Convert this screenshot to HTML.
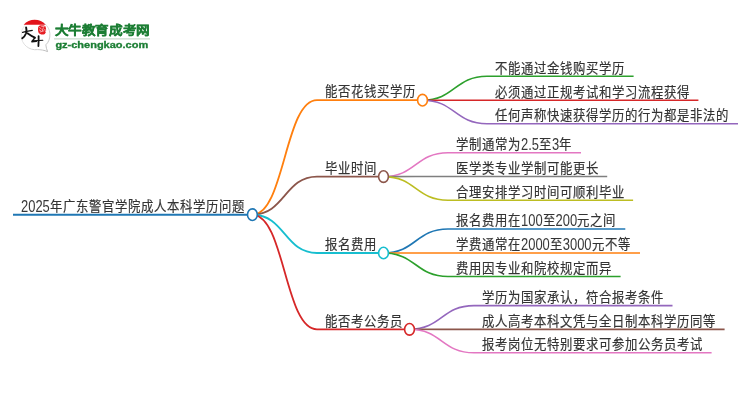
<!DOCTYPE html>
<html lang="zh-CN"><head><meta charset="utf-8"><style>
html,body{margin:0;padding:0;background:#fff;width:750px;height:410px;overflow:hidden}
svg{display:block}
.t text{font-family:"Liberation Sans",sans-serif;font-size:15.2px;letter-spacing:1.05px;fill:#333;stroke:#333;stroke-width:0.2px}
.t text.d{font-size:15.9px;letter-spacing:0;stroke:none;fill:#383838}
</style></head><body>
<svg width="750" height="410" viewBox="0 0 750 410">

<defs><linearGradient id="bg" x1="0" y1="0" x2="1" y2="1"><stop offset="0" stop-color="#f0f0f0"/><stop offset="0.6" stop-color="#d8d8d8"/><stop offset="1" stop-color="#b8b8b8"/></linearGradient></defs>
<line x1="54" y1="38.8" x2="150" y2="38.8" stroke="#c9dccc" stroke-width="1.2"/>
<g id="logo">
 <path d="M21.2,36 A14.4,14.4 0 0 1 49.9,33.5 C50.2,38.5 48.5,42.5 45.8,44.8 C46,47.2 46.8,49.8 47.6,51.6 C44.5,50.2 40.5,49.6 37.5,49.6 A14.4,14.4 0 0 1 21.2,36 Z" fill="#fff" stroke="url(#bg)" stroke-width="1"/>
 <path d="M23.7,24.8 A14.5,14.5 0 0 1 45.6,24.8 Z" fill="#e3131b"/>
 <path d="M38.4,26.8 C39.5,25 44,24.8 45.4,26.5 C46.6,28.5 46.3,32.5 44.8,34 C43,35 39.6,34.6 38.6,32.8 C37.8,31 37.8,28.4 38.4,26.8 Z" fill="#e61e24"/>
 <path d="M39.3,27 L41.6,29.4 M43.4,27.4 L42.2,31.2 M40,32 L44,30.8 M39.2,30 L40.8,30.6 M41.2,26.2 L44.6,26.6 M44.8,29 L45.6,32" stroke="#fff" stroke-width="0.8" fill="none" opacity="0.75"/>
 <path d="M26.1,27.4 C26.6,29 26.8,31 26,33.5 C25.2,35.5 24,37 22.3,38.3" stroke="#111" stroke-width="1.9" fill="none" stroke-linecap="round"/>
 <path d="M22.6,32.3 C26,31.8 29,31 32.3,30.3" stroke="#111" stroke-width="1.2" fill="none" stroke-linecap="round"/>
 <path d="M27.6,33.3 C30,35 32.5,36.8 35,37.7" stroke="#111" stroke-width="1.8" fill="none" stroke-linecap="round"/>
 <path d="M34.6,38 L31.8,41.8 L36.5,41.2" stroke="#111" stroke-width="1.4" fill="none" stroke-linecap="round" stroke-linejoin="round"/>
 <path d="M32.2,40.9 C36,40.6 40,40.3 42.8,40.3" stroke="#111" stroke-width="1.1" fill="none" stroke-linecap="round"/>
 <path d="M38.6,36.2 C38.7,39.5 38.6,43 38.4,46" stroke="#111" stroke-width="1.8" fill="none" stroke-linecap="round"/>
</g>

<path d="M252.40,214.70 C284.70,214.70 284.70,100.10 317.00,100.10" stroke="#ff7f0e" stroke-width="1.8" fill="none"/><path d="M422.50,100.20 C454.75,100.20 454.75,76.20 487.00,76.20" stroke="#2ca02c" stroke-width="1.6" fill="none"/><path d="M422.50,100.20 C454.75,100.20 454.75,100.20 487.00,100.20" stroke="#d62728" stroke-width="1.6" fill="none"/><path d="M422.50,100.20 C454.75,100.20 454.75,123.70 487.00,123.70" stroke="#9467bd" stroke-width="1.6" fill="none"/><path d="M252.40,214.70 C284.70,214.70 284.70,176.60 317.00,176.60" stroke="#8c564b" stroke-width="1.8" fill="none"/><path d="M383.50,176.60 C415.75,176.60 415.75,152.80 448.00,152.80" stroke="#e377c2" stroke-width="1.6" fill="none"/><path d="M383.50,176.60 C415.75,176.60 415.75,176.50 448.00,176.50" stroke="#7f7f7f" stroke-width="1.6" fill="none"/><path d="M383.50,176.60 C415.75,176.60 415.75,200.20 448.00,200.20" stroke="#bcbd22" stroke-width="1.6" fill="none"/><path d="M252.40,214.70 C284.70,214.70 284.70,253.00 317.00,253.00" stroke="#17becf" stroke-width="1.8" fill="none"/><path d="M383.50,253.00 C415.75,253.00 415.75,229.00 448.00,229.00" stroke="#1f77b4" stroke-width="1.6" fill="none"/><path d="M383.50,253.00 C415.75,253.00 415.75,253.00 448.00,253.00" stroke="#ff7f0e" stroke-width="1.6" fill="none"/><path d="M383.50,253.00 C415.75,253.00 415.75,276.50 448.00,276.50" stroke="#2ca02c" stroke-width="1.6" fill="none"/><path d="M252.40,214.70 C284.70,214.70 284.70,329.30 317.00,329.30" stroke="#d62728" stroke-width="1.8" fill="none"/><path d="M409.50,329.30 C441.75,329.30 441.75,305.60 474.00,305.60" stroke="#9467bd" stroke-width="1.6" fill="none"/><path d="M409.50,329.30 C441.75,329.30 441.75,329.40 474.00,329.40" stroke="#8c564b" stroke-width="1.6" fill="none"/><path d="M409.50,329.30 C441.75,329.30 441.75,352.80 474.00,352.80" stroke="#e377c2" stroke-width="1.6" fill="none"/><line x1="13" y1="214.8" x2="252.4" y2="214.8" stroke="#1f77b4" stroke-width="1.9"/><line x1="317" y1="100.1" x2="422.5" y2="100.1" stroke="#ff7f0e" stroke-width="1.8"/><line x1="487" y1="76.2" x2="633.6" y2="76.2" stroke="#2ca02c" stroke-width="1.6"/><line x1="487" y1="100.2" x2="698.4" y2="100.2" stroke="#d62728" stroke-width="1.6"/><line x1="487" y1="123.7" x2="738" y2="123.7" stroke="#9467bd" stroke-width="1.6"/><line x1="317" y1="176.6" x2="383.5" y2="176.6" stroke="#8c564b" stroke-width="1.8"/><line x1="448" y1="152.8" x2="581" y2="152.8" stroke="#e377c2" stroke-width="1.6"/><line x1="448" y1="176.5" x2="607.2" y2="176.5" stroke="#7f7f7f" stroke-width="1.6"/><line x1="448" y1="200.2" x2="633.1" y2="200.2" stroke="#bcbd22" stroke-width="1.6"/><line x1="317" y1="253" x2="383.5" y2="253" stroke="#17becf" stroke-width="1.8"/><line x1="448" y1="229.0" x2="625.3" y2="229.0" stroke="#1f77b4" stroke-width="1.6"/><line x1="448" y1="253" x2="640" y2="253" stroke="#ff7f0e" stroke-width="1.6"/><line x1="448" y1="276.5" x2="620.6" y2="276.5" stroke="#2ca02c" stroke-width="1.6"/><line x1="317" y1="329.3" x2="409.5" y2="329.3" stroke="#d62728" stroke-width="1.8"/><line x1="474" y1="305.6" x2="672.5" y2="305.6" stroke="#9467bd" stroke-width="1.6"/><line x1="474" y1="329.4" x2="724.6" y2="329.4" stroke="#8c564b" stroke-width="1.6"/><line x1="474" y1="352.8" x2="711.6" y2="352.8" stroke="#e377c2" stroke-width="1.6"/><ellipse cx="252.4" cy="214.7" rx="4.9" ry="5.8" stroke="#1f77b4" stroke-width="1.6" fill="#fff"/><ellipse cx="422.5" cy="100.2" rx="4.9" ry="5.8" stroke="#ff7f0e" stroke-width="1.6" fill="#fff"/><ellipse cx="383.5" cy="176.6" rx="4.9" ry="5.8" stroke="#8c564b" stroke-width="1.6" fill="#fff"/><ellipse cx="383.5" cy="253" rx="4.9" ry="5.8" stroke="#17becf" stroke-width="1.6" fill="#fff"/><ellipse cx="409.5" cy="329.3" rx="4.9" ry="5.8" stroke="#d62728" stroke-width="1.6" fill="#fff"/>
</svg>
<svg class="t" style="position:absolute;left:0;top:0;will-change:transform" width="750" height="410" viewBox="0 0 750 410"><text transform="translate(54.5,34.5) scale(1,0.9)" style="font-weight:700;font-size:13.6px;letter-spacing:0;fill:#1c7e34;stroke:#1c7e34;stroke-width:0.4px" textLength="95.6" lengthAdjust="spacingAndGlyphs">大牛教育成考网</text><text x="55.4" y="47.5" style="font-weight:bold;font-size:9.7px;letter-spacing:0;fill:#1c7e34;stroke:#1c7e34;stroke-width:0.35px" textLength="92.8" lengthAdjust="spacingAndGlyphs">gz-chengkao.com</text><text class="d" transform="translate(21.00,211.80) scale(0.814,1.0)">2025</text><text transform="translate(49.78,211.10) scale(0.814,0.925)">年广东警官学院成人本科学历问题</text><text transform="translate(325.00,96.40) scale(0.814,0.925)">能否花钱买学历</text><text transform="translate(495.00,72.50) scale(0.814,0.925)">不能通过金钱购买学历</text><text transform="translate(495.00,96.50) scale(0.814,0.925)">必须通过正规考试和学习流程获得</text><text transform="translate(495.00,120.00) scale(0.814,0.925)">任何声称快速获得学历的行为都是非法的</text><text transform="translate(325.00,172.90) scale(0.814,0.925)">毕业时间</text><text transform="translate(456.00,149.10) scale(0.814,0.925)">学制通常为</text><text class="d" transform="translate(521.00,149.80) scale(0.814,1.0)">2.5</text><text transform="translate(538.99,149.10) scale(0.814,0.925)">至</text><text class="d" transform="translate(551.99,149.80) scale(0.814,1.0)">3</text><text transform="translate(559.19,149.10) scale(0.814,0.925)">年</text><text transform="translate(456.00,172.80) scale(0.814,0.925)">医学类专业学制可能更长</text><text transform="translate(456.00,196.50) scale(0.814,0.925)">合理安排学习时间可顺利毕业</text><text transform="translate(325.00,249.30) scale(0.814,0.925)">报名费用</text><text transform="translate(456.00,225.30) scale(0.814,0.925)">报名费用在</text><text class="d" transform="translate(521.00,226.00) scale(0.814,1.0)">100</text><text transform="translate(542.59,225.30) scale(0.814,0.925)">至</text><text class="d" transform="translate(555.59,226.00) scale(0.814,1.0)">200</text><text transform="translate(577.18,225.30) scale(0.814,0.925)">元之间</text><text transform="translate(456.00,249.30) scale(0.814,0.925)">学费通常在</text><text class="d" transform="translate(521.00,250.00) scale(0.814,1.0)">2000</text><text transform="translate(549.78,249.30) scale(0.814,0.925)">至</text><text class="d" transform="translate(562.78,250.00) scale(0.814,1.0)">3000</text><text transform="translate(591.57,249.30) scale(0.814,0.925)">元不等</text><text transform="translate(456.00,272.80) scale(0.814,0.925)">费用因专业和院校规定而异</text><text transform="translate(325.00,325.60) scale(0.814,0.925)">能否考公务员</text><text transform="translate(482.00,301.90) scale(0.814,0.925)">学历为国家承认，符合报考条件</text><text transform="translate(482.00,325.70) scale(0.814,0.925)">成人高考本科文凭与全日制本科学历同等</text><text transform="translate(482.00,349.10) scale(0.814,0.925)">报考岗位无特别要求可参加公务员考试</text></svg>
</body></html>
